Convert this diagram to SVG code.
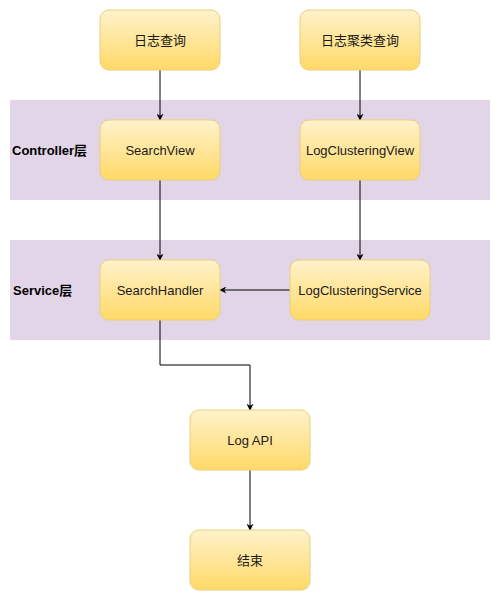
<svg xmlns="http://www.w3.org/2000/svg" width="500" height="600" viewBox="0 0 500 600">
<style>
.node rect{fill:url(#g);stroke:#e8cf7a;stroke-width:1}
.node text{font-family:"Liberation Sans","Noto Sans CJK SC",sans-serif;font-size:13px;fill:#1a1a1a;text-anchor:middle;dominant-baseline:central}
.band{fill:#e1d5e7;stroke:none}
.lbl{font-family:"Liberation Sans","Noto Sans CJK SC",sans-serif;font-size:13px;font-weight:bold;fill:#000;dominant-baseline:central}
.edge{fill:none;stroke:#000;stroke-width:1;marker-end:url(#arr)}
</style>
<defs>
<linearGradient id="g" x1="0" y1="0" x2="0" y2="1">
<stop offset="0" stop-color="#fff2cc"/>
<stop offset="1" stop-color="#ffd966"/>
</linearGradient>
<marker id="arr" viewBox="0 0 10 10" refX="9" refY="5" markerWidth="7" markerHeight="7" markerUnits="userSpaceOnUse" orient="auto">
<path d="M0,0 L10,5 L0,10 L3,5 Z" fill="#000"/>
</marker>
</defs>
<g id="layer-controller"><rect class="band" x="10" y="100" width="480" height="100"/><text class="lbl" x="12" y="150">Controller层</text></g>
<g id="layer-service"><rect class="band" x="10" y="240" width="480" height="100"/><text class="lbl" x="13" y="290">Service层</text></g>
<g id="edges">
<path class="edge" d="M160,70 V120"/>
<path class="edge" d="M360,70 V120"/>
<path class="edge" d="M160,180 V260"/>
<path class="edge" d="M360,180 V260"/>
<path class="edge" d="M290,290 H220"/>
<path class="edge" d="M160,320 V365 H250 V410"/>
<path class="edge" d="M250,470 V530"/>
</g>
<g id="n1" class="node"><rect x="100" y="10" width="120" height="60" rx="9"/><text x="160" y="40">日志查询</text></g>
<g id="n2" class="node"><rect x="300" y="10" width="120" height="60" rx="9"/><text x="360" y="40">日志聚类查询</text></g>
<g id="n3" class="node"><rect x="100" y="120" width="120" height="60" rx="9"/><text x="160" y="150">SearchView</text></g>
<g id="n4" class="node"><rect x="300" y="120" width="120" height="60" rx="9"/><text x="360" y="150">LogClusteringView</text></g>
<g id="n5" class="node"><rect x="100" y="260" width="120" height="60" rx="9"/><text x="160" y="290">SearchHandler</text></g>
<g id="n6" class="node"><rect x="290" y="260" width="140" height="60" rx="9"/><text x="360" y="290">LogClusteringService</text></g>
<g id="n7" class="node"><rect x="190" y="410" width="120" height="60" rx="9"/><text x="250" y="440">Log API</text></g>
<g id="n8" class="node"><rect x="190" y="530" width="120" height="60" rx="9"/><text x="250" y="560">结束</text></g>
</svg>
